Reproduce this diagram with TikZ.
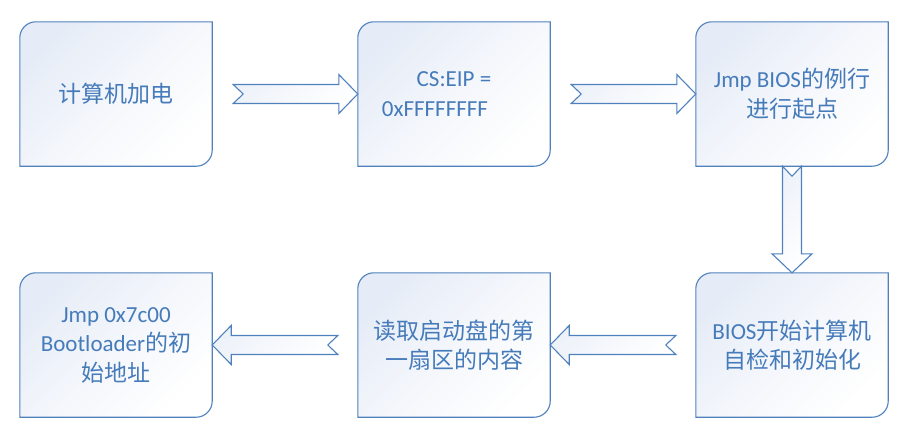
\documentclass[tikz,border=0pt]{standalone}
\usepackage{fontspec}
\setmainfont{Carlito}
\newfontfamily\cjk{Noto Sans CJK SC}
\usetikzlibrary{calc,backgrounds}
\definecolor{edgeblue}{RGB}{79,129,189}
\definecolor{txtblue}{RGB}{70,123,186}
\definecolor{fillblue}{RGB}{230,236,247}
\newcommand\boxpath[1]{\path[boxshape] (#1.south west) -- ([yshift=-16pt]#1.north west) arc[start angle=180,end angle=90,radius=16pt] -- (#1.north east) -- ([yshift=16pt]#1.south east) arc[start angle=0,end angle=-90,radius=16pt] -- cycle;}
\newcommand\rarrow[2]{\path[blockarrow] let \p1=(#1.east), \p2=(#2.west) in
 (\x1+21pt,\y1+9.5pt) -- (\x2-19pt,\y1+9.5pt) -- (\x2-19pt,\y1+19.5pt) -- (\x2,\y1) -- (\x2-19pt,\y1-19.5pt) -- (\x2-19pt,\y1-9.5pt) -- (\x1+21pt,\y1-9.5pt) -- (\x1+31pt,\y1) -- cycle;}
\newcommand\larrow[2]{\path[blockarrow] let \p1=(#1.west), \p2=(#2.east) in
 (\x1-20pt,\y1+9.5pt) -- (\x2+19pt,\y1+9.5pt) -- (\x2+19pt,\y1+19.5pt) -- (\x2,\y1) -- (\x2+19pt,\y1-19.5pt) -- (\x2+19pt,\y1-9.5pt) -- (\x1-20pt,\y1-9.5pt) -- (\x1-30pt,\y1) -- cycle;}
\newcommand\darrow[2]{\path[blockarrow] let \p1=(#1.south), \p2=(#2.north) in
 (\x1-9.5pt,\y1) -- (\x1-9.5pt,\y2+19pt) -- (\x1-20pt,\y2+19pt) -- (\x1,\y2) -- (\x1+20pt,\y2+19pt) -- (\x1+9.5pt,\y2+19pt) -- (\x1+9.5pt,\y1) -- (\x1,\y1-10pt) -- cycle;}
\begin{document}
\begin{tikzpicture}[x=1pt,y=1pt,
 box/.style={rectangle, inner sep=0pt, minimum width=192pt, minimum height=144pt, align=center, text=txtblue, font=\fontsize{23}{29.5}\selectfont},
 boxshape/.style={draw=edgeblue, line width=1.1pt, top color=fillblue, bottom color=white, middle color=white!55!fillblue, shading angle=45},
 blockarrow/.style={draw=edgeblue, line width=1.1pt, top color=fillblue!70, bottom color=white, shading angle=45, line join=miter}]
\useasboundingbox (0,0) rectangle (913,-440);
\node[box] (b1) at (116,-94) {{\cjk 计算机加电}};
\node[box] (b2) at (454,-94) {CS:EIP =\\0xFFFFFFFF\kern38pt};
\node[box] (b3) at (792,-94) {Jmp BIOS{\cjk 的例行}\\{\cjk 进行起点}};
\node[box] (b6) at (792,-345) {BIOS{\cjk 开始计算机}\\{\cjk 自检和初始化}};
\node[box] (b5) at (454,-345) {{\cjk 读取启动盘的第}\\{\cjk 一扇区的内容}};
\node[box] (b4) at (116,-345) {Jmp 0x7c00\\Bootloader{\cjk 的初}\\{\cjk 始地址}};
\begin{scope}[on background layer]
\boxpath{b1}\boxpath{b2}\boxpath{b3}\boxpath{b4}\boxpath{b5}\boxpath{b6}
\end{scope}
\rarrow{b1}{b2}
\rarrow{b2}{b3}
\darrow{b3}{b6}
\larrow{b6}{b5}
\larrow{b5}{b4}
\end{tikzpicture}
\end{document}
